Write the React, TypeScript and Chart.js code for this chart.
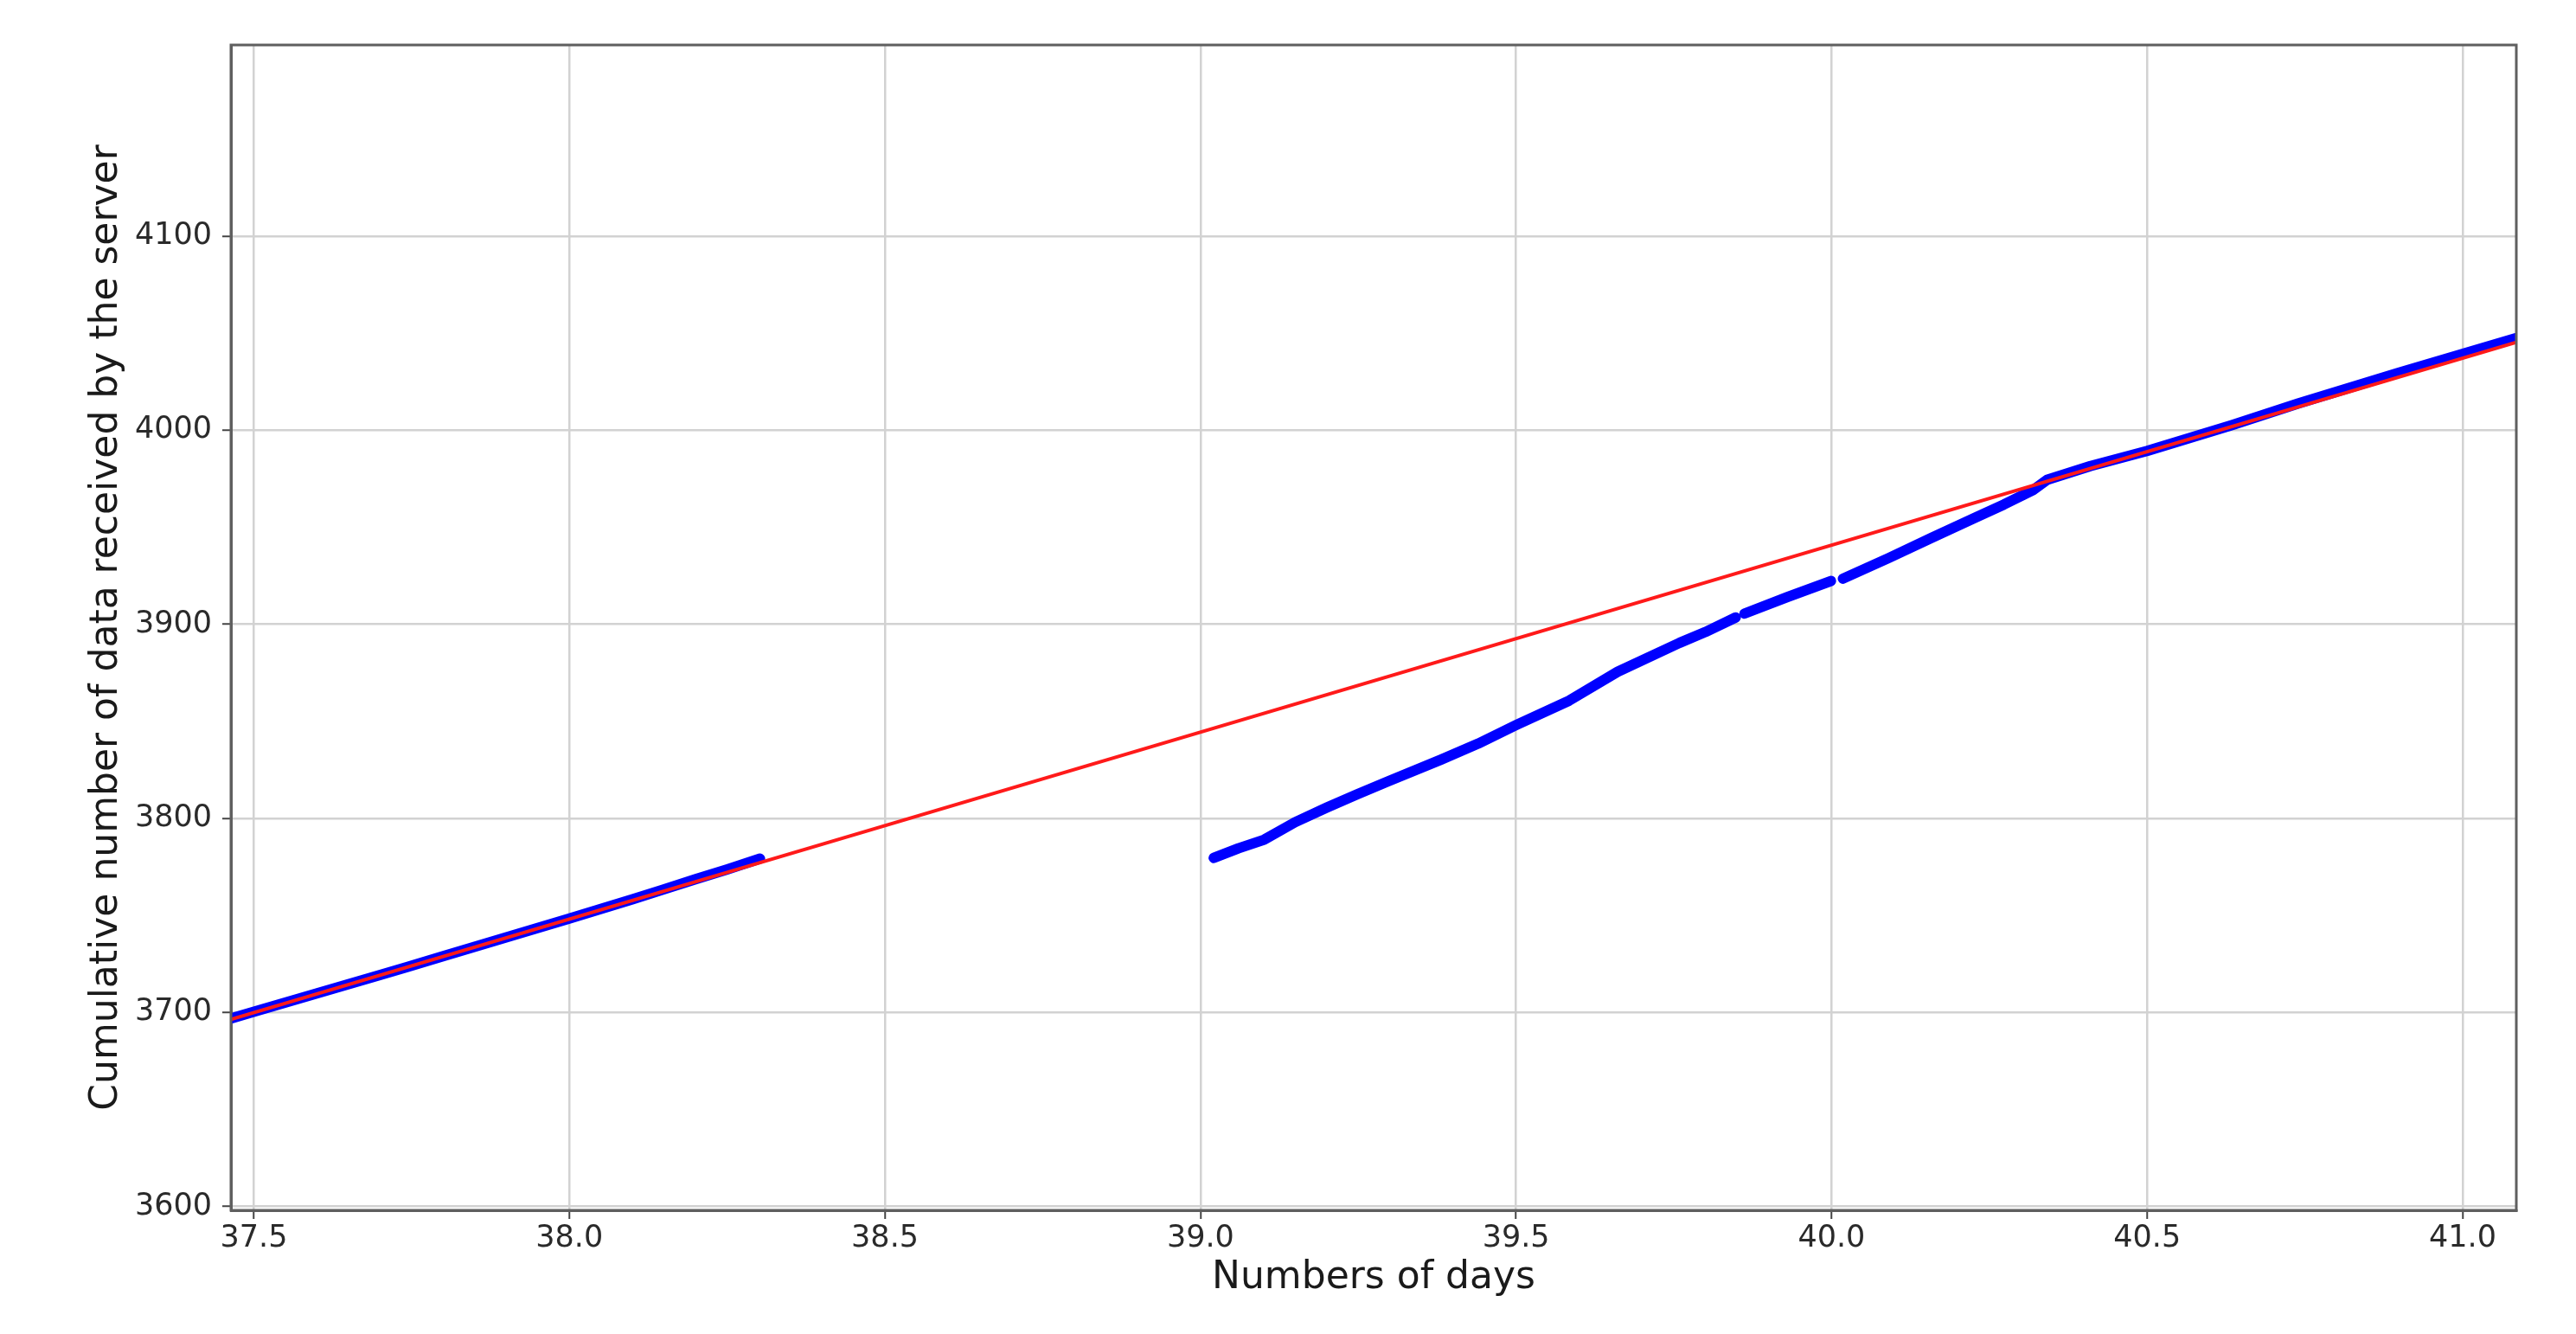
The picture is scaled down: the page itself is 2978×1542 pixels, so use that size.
import React, { useEffect, useRef } from "react";
import { Chart, registerables } from "chart.js";

Chart.register(...registerables);

// ---- Data ----
const xTicks = [37.5, 38.0, 38.5, 39.0, 39.5, 40.0, 40.5, 41.0];
const yTicks = [3600, 3700, 3800, 3900, 4000, 4100];

// Fitted (red) line
const fitX = [37.4637, 41.085];
const fitY = [3696.4, 4045.3];

// Observed cumulative counts (blue), in segments separated by gaps
const obs1X = [37.463, 37.5, 37.6, 37.7, 37.742, 37.8, 37.9, 38.0, 38.1, 38.146, 38.2, 38.25, 38.302];
const obs1Y = [3696.8, 3700.3, 3709.8, 3719.3, 3723.3, 3729.0, 3738.6, 3748.4, 3758.3, 3763.0, 3768.6, 3773.6, 3779.2];

const obs2X = [39.021, 39.06, 39.101, 39.15, 39.2, 39.248, 39.297, 39.381, 39.44, 39.5, 39.584, 39.661, 39.759, 39.8, 39.848];
const obs2Y = [3779.6, 3784.5, 3789.0, 3798.0, 3805.5, 3812.3, 3819.0, 3830.2, 3838.5, 3848.0, 3860.6, 3875.5, 3890.4, 3896.0, 3903.5];

const obs3X = [39.862, 39.93, 39.999];
const obs3Y = [3905.5, 3914.0, 3922.3];

const obs4X = [40.018, 40.091, 40.159, 40.228, 40.273, 40.319, 40.342, 40.41, 40.5, 40.634, 40.739, 40.897, 41.085];
const obs4Y = [3923.5, 3934.2, 3944.6, 3955.0, 3961.7, 3969.1, 3974.5, 3981.5, 3989.3, 4002.6, 4013.7, 4029.4, 4047.5];

const xTitle = "Numbers of days";
const yTitle = "Cumulative number of data received by the server";

const pts = (xs: number[], ys: number[]) => xs.map((x, i) => ({ x, y: ys[i] }));

const FONT = "DejaVu Sans";

const frame = {
  id: "frame",
  afterDraw(chart: any) {
    const { ctx, chartArea } = chart;
    ctx.save();
    ctx.strokeStyle = "#5f5f5f";
    ctx.lineWidth = 3;
    ctx.strokeRect(chartArea.left, chartArea.top, chartArea.right - chartArea.left, chartArea.bottom - chartArea.top);
    ctx.restore();
  },
};

export default function App() {
  const ref = useRef<HTMLCanvasElement | null>(null);

  useEffect(() => {
    document.body.style.margin = "0";
    const blueDs = (xs: number[], ys: number[]) => ({
      data: pts(xs, ys),
      showLine: true,
      borderColor: "#0000ff",
      backgroundColor: "#0000ff",
      borderWidth: 12,
      borderJoinStyle: "round",
      borderCapStyle: "round",
      pointRadius: 0,
      clip: 0,
    });
    const chart = new Chart(ref.current as HTMLCanvasElement, {
      type: "scatter",
      data: {
        datasets: [
          {
            data: pts(fitX, fitY),
            showLine: true,
            borderColor: "#ff1a1a",
            backgroundColor: "#ff1a1a",
            borderWidth: 4,
            pointRadius: 0,
            clip: 0,
          },
          blueDs(obs1X, obs1Y),
          blueDs(obs2X, obs2Y),
          blueDs(obs3X, obs3Y),
          blueDs(obs4X, obs4Y),
        ] as any,
      },
      options: {
        animation: false,
        responsive: false,
        devicePixelRatio: 1,
        layout: { padding: { top: 52, right: 69, bottom: 0, left: 0 } },
        plugins: { legend: { display: false }, tooltip: { enabled: false } },
        scales: {
          x: {
            type: "linear",
            min: 37.4637,
            max: 41.085,
            afterBuildTicks: (s: any) => {
              s.ticks = xTicks.map((v) => ({ value: v }));
            },
            afterFit: (s: any) => {
              s.height = 143;
            },
            grid: { color: "#d2d2d2", lineWidth: 2.5, tickLength: 10, tickColor: "#444", tickWidth: 2 },
            border: { color: "#5f5f5f", width: 3 },
            ticks: {
              padding: 2,
              color: "#2a2a2a",
              font: { family: FONT, size: 35 },
              maxRotation: 0,
              autoSkip: false,
              callback: (v: any) => Number(v).toFixed(1),
            },
            title: {
              display: true,
              text: xTitle,
              color: "#1a1a1a",
              font: { family: FONT, size: 44 },
              padding: { top: 0, bottom: 38 },
            },
          },
          y: {
            type: "linear",
            min: 3598,
            max: 4198.5,
            afterBuildTicks: (s: any) => {
              s.ticks = yTicks.map((v) => ({ value: v }));
            },
            afterFit: (s: any) => {
              s.width = 267;
            },
            grid: { color: "#d2d2d2", lineWidth: 2.5, tickLength: 10, tickColor: "#444", tickWidth: 2 },
            border: { color: "#5f5f5f", width: 3 },
            ticks: {
              padding: 12,
              color: "#2a2a2a",
              font: { family: FONT, size: 35 },
              autoSkip: false,
              callback: (v: any) => String(v),
            },
            title: {
              display: true,
              text: yTitle,
              color: "#1a1a1a",
              font: { family: FONT, size: 44 },
              padding: { top: 97, bottom: 0 },
            },
          },
        },
      } as any,
      plugins: [frame],
    });
    return () => chart.destroy();
  }, []);

  return (
    <div style={{ position: "fixed", left: 0, top: 0, width: 2978, height: 1542, background: "#fff" }}>
      <canvas ref={ref} width={2978} height={1542} style={{ display: "block", width: 2978, height: 1542 }} />
    </div>
  );
}
